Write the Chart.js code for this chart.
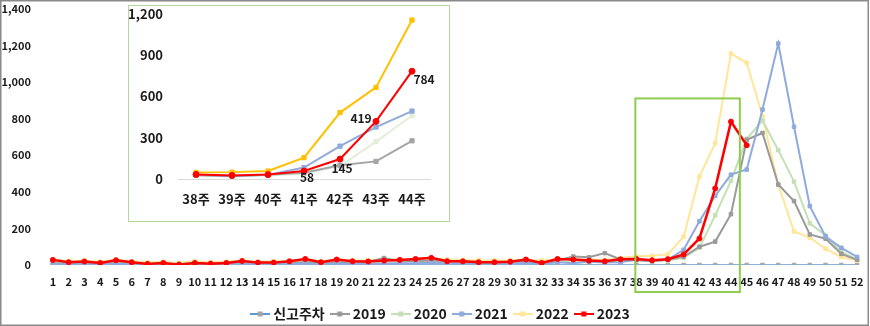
<!DOCTYPE html>
<html>
<head>
<meta charset="utf-8">
<script src="https://cdn.jsdelivr.net/npm/chart.js@4.4.1/dist/chart.umd.min.js"></script>
<style>
  html, body { margin: 0; padding: 0; background: #fff; }
  #wrap { position: relative; width: 870px; height: 326px; }
  #mainChart { position: absolute; left: 0; top: 0; }
  #insetBox { position: absolute; left: 128px; top: 5px; width: 320px; height: 215px;
              border: 1px solid #b5d69c; background: #fff; }
  #insetChart { position: absolute; left: 0; top: 0; }
</style>
</head>
<body>
<div id="wrap">
  <canvas id="mainChart" width="870" height="326"></canvas>
  <div id="insetBox"><canvas id="insetChart" width="320" height="215"></canvas></div>
</div>
<script>
// Weekly reported cases, weeks 1-52
const weeks = ['1','2','3','4','5','6','7','8','9','10','11','12','13','14','15','16','17','18','19','20',
  '21','22','23','24','25','26','27','28','29','30','31','32','33','34','35','36','37','38','39','40',
  '41','42','43','44','45','46','47','48','49','50','51','52'];
const insetWeeks = ['38주','39주','40주','41주','42주','43주','44주'];

const reportWeek = [0,0,0,0,0,0,0,0,0,0,0,0,0,0,0,0,0,0,0,0,0,0,0,0,0,0,
  0,0,0,0,0,0,0,0,0,0,0,0,0,0,0,0,0,0,0,0,0,0,0,0,0,0];
const y2019 = [10,8,8,6,9,8,6,7,5,8, 6,7,9,8,8,10,15,12,14,15, 18,38,20,22,25,22,18,15,15,16,
  20,12,25,46,42,65,30,28,22,30, 45,100,128,278,685,722,440,350,167,144, 61,28];
const y2020 = [15,12,14,10,16,12,8,10,6,12, 9,10,15,10,12,14,20,15,18,16, 15,18,20,22,25,20,18,15,16,16,
  20,8,25,22,20,18,25,25,20,25, 40,94,272,460,690,790,628,456,228,161, 72,30];
const y2021 = [5,4,5,4,6,5,4,5,3,5, 4,5,6,5,5,6,8,6,7,7, 6,8,9,10,12,10,9,8,8,9,
  12,5,15,10,18,14,15,30,22,30, 83,239,378,494,522,850,1211,756,322,156, 94,44];
const y2022 = [30,22,25,18,28,20,15,18,12,20, 15,18,25,18,20,22,30,20,28,25, 25,30,30,32,35,30,28,25,25,25,
  28,25,32,32,30,28,38,48,50,58, 155,483,666,1156,1106,815,439,183,150,89, 44,25];
const y2023 = [28,15,19,11,26,15,6,11,2,11, 7,11,22,13,13,20,33,15,30,20, 19,24,28,33,39,20,20,15,15,18,
  30,11,33,30,24,20,31,33,26,32, 58,145,419,784,655];

const yTicksMain = [0, 200, 400, 600, 800, 1000, 1200, 1400];
const yTicksInset = [0, 300, 600, 900, 1200];

// inset shows weeks 38-44 (array index 37..43)
const insetFrom = 37, insetTo = 44;
const insetLabelFirst = 3;   // value labels from 41주 on (2023 only)
const insetLabelShift = [[3, 6], [2, 9], [-15, -3], [12, 8]];
const zoomBoxTop = 900;      // value where the highlight box starts

const fontFamily = '"Noto Sans CJK KR", "Liberation Sans", sans-serif';
const textColor = '#1a1a1a';
Chart.defaults.font.family = fontFamily;
Chart.defaults.color = textColor;

function legendIcon(lineColor, markColor) {
  const c = document.createElement('canvas');
  c.width = 20; c.height = 8;
  const g = c.getContext('2d');
  g.strokeStyle = lineColor; g.lineWidth = 2;
  g.beginPath(); g.moveTo(0, 4); g.lineTo(20, 4); g.stroke();
  g.fillStyle = markColor;
  g.fillRect(7.5, 1.5, 5, 5);
  return c;
}

function lineSet(label, data, color, extra) {
  return Object.assign({
    label: label,
    data: data,
    borderColor: color,
    backgroundColor: color,
    pointBackgroundColor: color,
    pointBorderColor: color,
    pointStyle: 'rect',
    pointRadius: 2.5,
    pointBorderWidth: 1,
    borderWidth: 2,
    tension: 0
  }, extra || {});
}

const mainSets = [
  lineSet('신고주차', reportWeek, '#5b9bd5', { pointBackgroundColor: '#a5a5a5', pointBorderColor: '#a5a5a5', borderWidth: 1.5, order: 5 }),
  lineSet('2019', y2019, '#9a9a9a', { order: 2 }),
  lineSet('2020', y2020, '#c5e0b4', { order: 3 }),
  lineSet('2021', y2021, '#8faadc', { order: 1 }),
  lineSet('2022', y2022, '#ffe699', { order: 4 }),
  lineSet('2023', y2023, '#ff0000', { pointStyle: 'circle', pointRadius: 2.5, borderWidth: 2.5, order: 0 })
];
const iconColors = [['#5b9bd5', '#a5a5a5'], ['#9a9a9a', '#9a9a9a'], ['#c5e0b4', '#c5e0b4'],
  ['#8faadc', '#8faadc'], ['#ffe699', '#ffe699'], ['#ff0000', '#ff0000']];

// frame + highlight box for weeks 38-44
const mainDecor = {
  id: 'mainDecor',
  afterDatasetsDraw(chart) {
    const { ctx, scales: { x, y }, chartArea } = chart;
    const left = x.getPixelForValue(insetFrom) - 1;
    const right = (x.getPixelForValue(insetTo - 1) + x.getPixelForValue(insetTo)) / 2 + 1;
    const top = y.getPixelForValue(zoomBoxTop) - 2;
    const bottom = chartArea.bottom + 27;
    ctx.save();
    ctx.strokeStyle = '#8fcc4f';
    ctx.lineWidth = 2;
    ctx.strokeRect(left, top, right - left, bottom - top);
    ctx.restore();
  },
  afterDraw(chart) {
    const { ctx, width, height } = chart;
    ctx.save();
    ctx.strokeStyle = '#8a8a8a';
    ctx.lineWidth = 1.5;
    ctx.strokeRect(0.75, 0.75, width - 2.5, height - 1.5);
    ctx.restore();
  }
};

const legendShift = {
  id: 'legendShift',
  afterLayout(chart) {
    const lg = chart.legend;
    if (lg) { lg.top += 5; lg.bottom += 5; lg.left += 8; lg.right += 8; }
  }
};

function noXPad(s) { s.paddingLeft = 0; s.paddingRight = 0; }
function noYPad(s) { s.paddingTop = 0; s.paddingBottom = 0; }

new Chart(document.getElementById('mainChart'), {
  type: 'line',
  data: { labels: weeks, datasets: mainSets },
  options: {
    responsive: false,
    animation: false,
    layout: { padding: { top: 9, right: 2, left: 0, bottom: 0 } },
    plugins: {
      tooltip: { enabled: false },
      legend: {
        position: 'bottom',
        labels: {
          usePointStyle: true,
          pointStyleWidth: 12,
          padding: 9,
          color: textColor,
          font: { size: 14, weight: 'bold' },
          generateLabels(chart) {
            const items = Chart.defaults.plugins.legend.labels.generateLabels(chart);
            items.sort((a, b) => a.datasetIndex - b.datasetIndex);
            items.forEach(it => {
              const c = iconColors[it.datasetIndex];
              it.pointStyle = legendIcon(c[0], c[1]);
            });
            return items;
          }
        }
      }
    },
    scales: {
      x: {
        offset: true,
        grid: { display: false, drawTicks: false },
        border: { display: false },
        ticks: { autoSkip: false, maxRotation: 0, padding: 10, color: textColor, font: { size: 11, weight: 'bold' } },
        afterFit(s) { s.height = 28; noXPad(s); }
      },
      y: {
        min: 0,
        max: yTicksMain[yTicksMain.length - 1],
        grid: { display: false, drawTicks: false },
        border: { display: false },
        afterBuildTicks(s) { s.ticks = yTicksMain.map(v => ({ value: v })); },
        ticks: {
          padding: 14, color: textColor, font: { size: 11, weight: 'bold' },
          callback: v => v.toLocaleString('en-US')
        },
        afterFit(s) { s.width = 45; noYPad(s); }
      }
    }
  },
  plugins: [mainDecor, legendShift]
});

// ---- inset: weeks 38-44 ----
const insetColors = { '2019': '#a5a5a5', '2020': '#e2efd9', '2021': '#8faadc', '2022': '#ffc000', '2023': '#ff0000' };
const insetSets = [
  lineSet('2019', y2019.slice(insetFrom, insetTo), insetColors['2019'], { pointRadius: 3, order: 2 }),
  lineSet('2020', y2020.slice(insetFrom, insetTo), insetColors['2020'], { pointRadius: 3, order: 4 }),
  lineSet('2021', y2021.slice(insetFrom, insetTo), insetColors['2021'], { pointRadius: 3, order: 1 }),
  lineSet('2022', y2022.slice(insetFrom, insetTo), insetColors['2022'], { pointRadius: 3, order: 3 }),
  lineSet('2023', y2023.slice(insetFrom, insetTo), insetColors['2023'], { pointStyle: 'circle', pointRadius: 3, order: 0 })
];

const insetLabels = {
  id: 'insetLabels',
  afterDatasetsDraw(chart) {
    const idx = chart.data.datasets.findIndex(d => d.label === '2023');
    const ds = chart.data.datasets[idx];
    const meta = chart.getDatasetMeta(idx);
    const ctx = chart.ctx;
    ctx.save();
    ctx.font = 'bold 12px ' + fontFamily;
    ctx.fillStyle = textColor;
    ctx.textAlign = 'center';
    ctx.textBaseline = 'middle';
    for (let i = insetLabelFirst; i < ds.data.length; i++) {
      const pt = meta.data[i];
      const sh = insetLabelShift[i - insetLabelFirst];
      ctx.fillText(String(ds.data[i]), pt.x + sh[0], pt.y + sh[1]);
    }
    ctx.restore();
  }
};

new Chart(document.getElementById('insetChart'), {
  type: 'line',
  data: { labels: insetWeeks, datasets: insetSets },
  options: {
    responsive: false,
    animation: false,
    layout: { padding: { top: 8, right: 19, left: 0, bottom: 0 } },
    plugins: { legend: { display: false }, tooltip: { enabled: false } },
    scales: {
      x: {
        offset: true,
        grid: { display: false, drawTicks: false },
        border: { display: true, color: '#d9d9d9', width: 1 },
        ticks: { maxRotation: 0, padding: 12, color: textColor, font: { size: 13, weight: 'bold' } },
        afterFit(s) { s.height = 42; noXPad(s); }
      },
      y: {
        min: 0,
        max: yTicksInset[yTicksInset.length - 1],
        grid: { display: false, drawTicks: false },
        border: { display: false },
        afterBuildTicks(s) { s.ticks = yTicksInset.map(v => ({ value: v })); },
        ticks: {
          padding: 15, color: textColor, font: { size: 13, weight: 'bold' },
          callback: v => v.toLocaleString('en-US')
        },
        afterFit(s) { s.width = 49; noYPad(s); }
      }
    }
  },
  plugins: [insetLabels]
});
</script>
</body>
</html>
